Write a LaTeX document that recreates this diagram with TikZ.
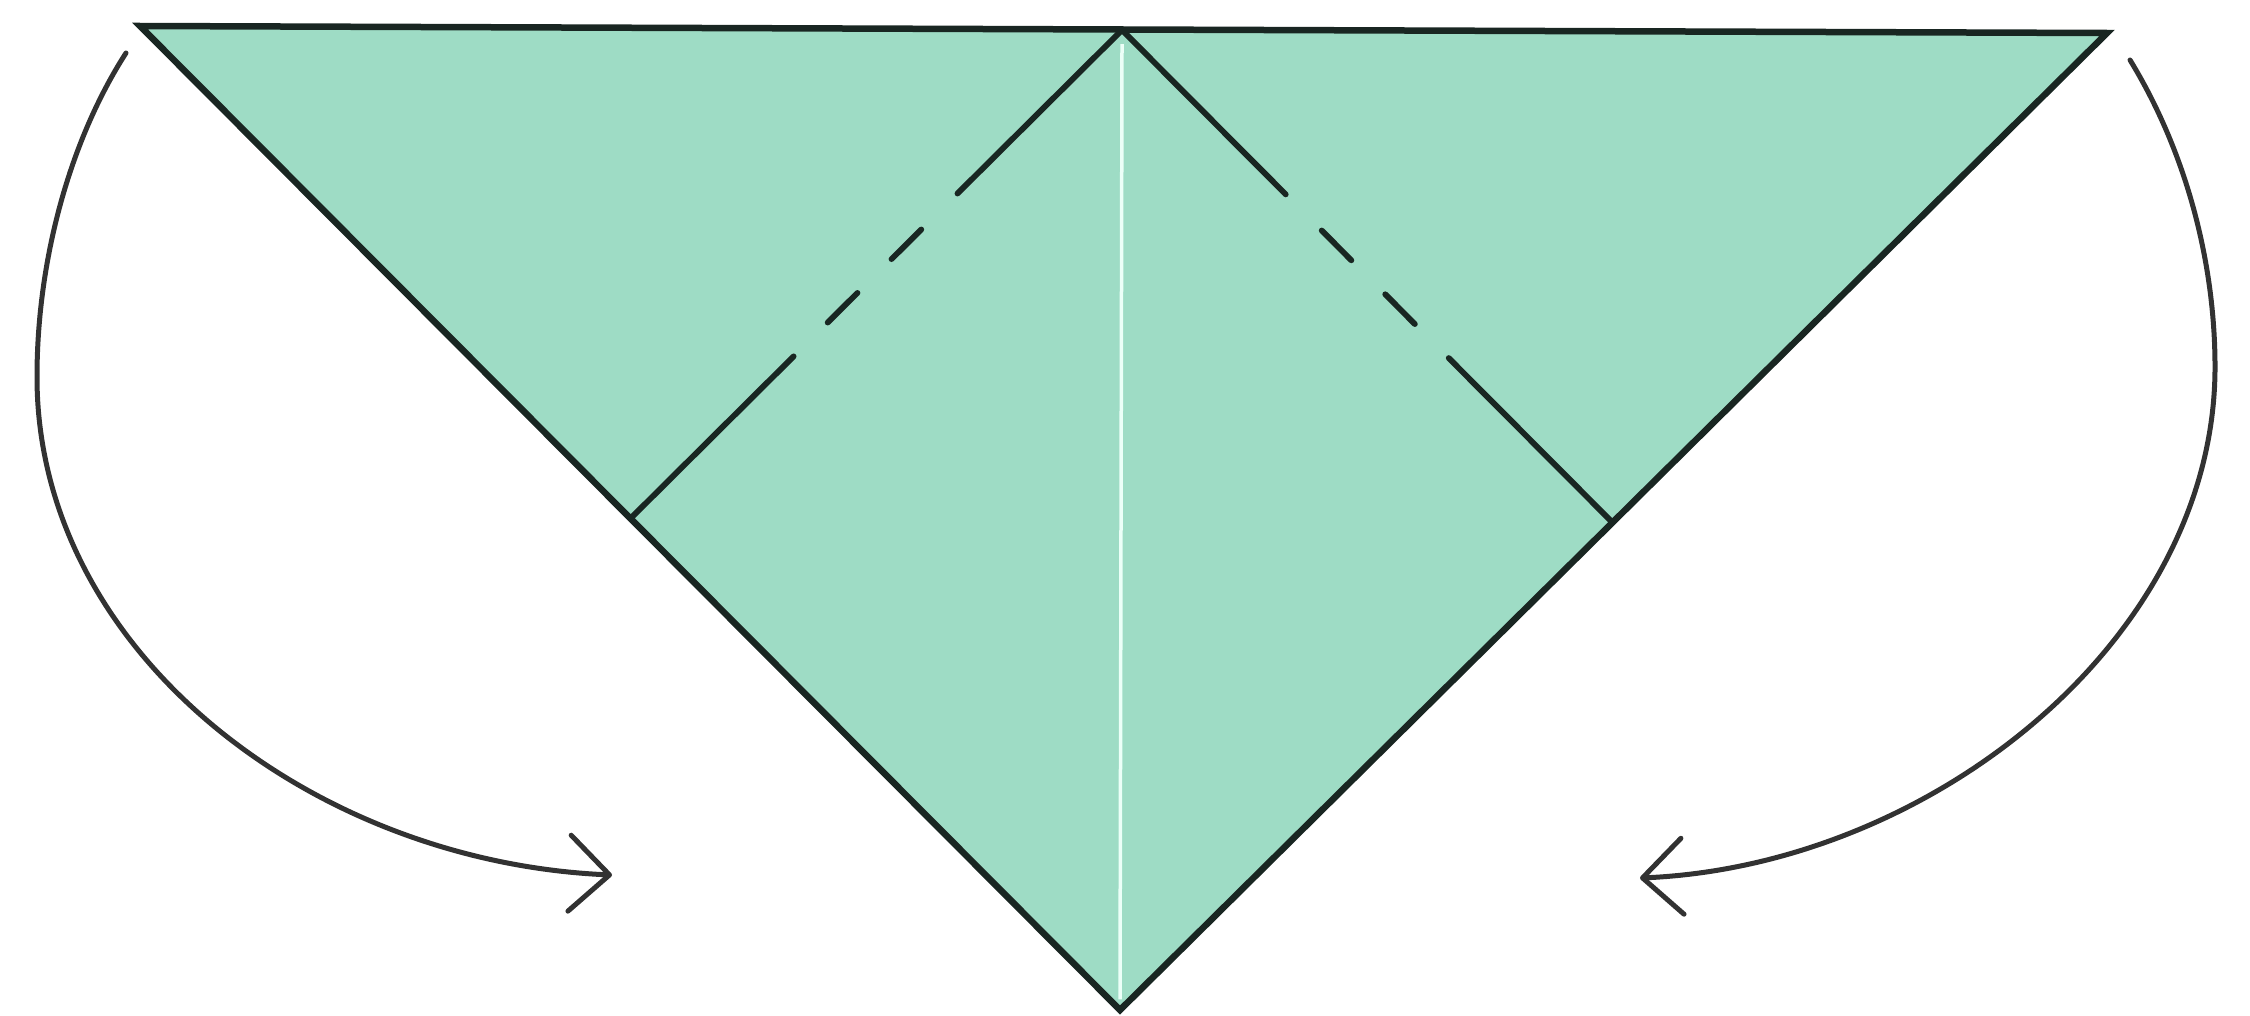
\documentclass[tikz,border=0pt]{standalone}
\usetikzlibrary{arrows.meta}
\definecolor{paper}{RGB}{158,220,197}
\definecolor{edge}{RGB}{25,38,34}
\definecolor{arrowgray}{RGB}{50,50,50}
\definecolor{crease}{RGB}{236,255,248}
\tikzset{
  outline/.style={draw=edge, line width=0.65mm, line join=miter, fill=paper},
  foldline/.style={draw=edge, line width=0.58mm, line cap=round,
    dash pattern=on 23.2mm off 5.1mm on 4.2mm off 4.8mm on 4.2mm off 4.8mm on 40mm},
  centercrease/.style={draw=crease, line width=0.35mm},
  turnarrow/.style={draw=arrowgray, line width=0.5mm, line cap=round,
    -{Straight Barb[length=4mm,width=7.6mm,round]}}
}
\begin{document}
\begin{tikzpicture}[x=0.1mm,y=-0.1mm]
\useasboundingbox (0,0) rectangle (2250,1015);
% corners of the folded paper
\coordinate (TL) at (140,26);
\coordinate (TC) at (1122,30);
\coordinate (TR) at (2107,33);
\coordinate (B)  at (1120,1010);
\coordinate (FL) at (632,517);
\coordinate (FR) at (1612,522);
% paper
\path[outline] (TL) -- (TR) -- (B) -- cycle;
% white centre crease
\draw[centercrease] ([yshift=-4]TC) -- ([yshift=3]B);
% folds
\draw[foldline] (TC) -- (FL);
\draw[foldline] (TC) -- (FR);
% arrows
\coordinate (LA0) at (126,53);
\coordinate (LA1) at (37,377);
\coordinate (LA2) at (612,875);
\draw[turnarrow] (LA0) .. controls (70,140) and (37,260) .. (LA1)
  .. controls (37,650) and (310,862) .. (LA2);
\coordinate (RA0) at (2130,60);
\coordinate (RA1) at (2215,367);
\coordinate (RA2) at (1640,878);
\draw[turnarrow] (RA0) .. controls (2185,150) and (2215,260) .. (RA1)
  .. controls (2215,640) and (1930,866) .. (RA2);
\end{tikzpicture}
\end{document}
